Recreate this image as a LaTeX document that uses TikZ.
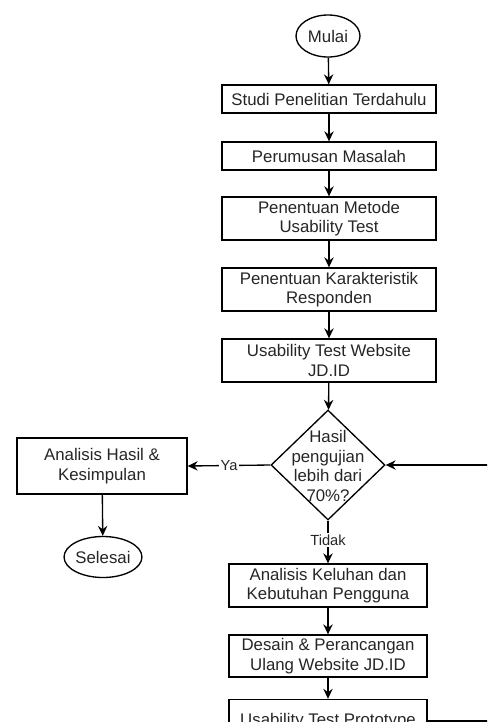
\documentclass[tikz,border=0pt]{standalone}
\usepackage{fontspec}
\setmainfont{Liberation Sans}
\usetikzlibrary{shapes.geometric,arrows.meta}
\begin{document}
\begin{tikzpicture}[x=0.75pt,y=-0.75pt,
  every node/.style={font=\fontsize{12.6}{14.6}\selectfont, text=black!85},
  box/.style={draw, line width=1pt, rectangle, minimum width=160.5pt, align=center, inner sep=0pt},
  boxb/.style={box, minimum width=148.5pt},
  term/.style={draw, line width=1pt, ellipse, inner sep=0pt},
  dec/.style={draw, line width=1pt, diamond, minimum width=85.5pt, minimum height=82.5pt, inner sep=0pt},
  lbl/.style={fill=white, inner sep=1pt, font=\fontsize{11}{13}\selectfont},
  arr/.style={line width=1pt, -{Stealth[length=7.5pt,width=7pt,inset=2.5pt]}},
  ln/.style={line width=1pt}]
\clip (0,0) rectangle (487,722);
\fill[white] (0,0) rectangle (487,722);
\node[term, minimum width=48pt, minimum height=31.5pt] (mulai) at (328,36) {Mulai};
\node[box, minimum height=21pt] (b1) at (329,99) {Studi Penelitian Terdahulu};
\node[box, minimum height=21pt] (b2) at (329,156) {Perumusan Masalah};
\node[box, minimum height=32.25pt] (b3) at (329,218.5) {Penentuan Metode\\Usability Test};
\node[box, minimum height=32.25pt] (b4) at (329,289.5) {Penentuan Karakteristik\\Responden};
\node[box, minimum height=32.25pt] (b5) at (329,360.5) {Usability Test Website\\JD.ID};
\node[dec] (d) at (328,465) {};
\node[align=center, inner sep=0pt] (dt) at (328,466) {Hasil\\pengujian\\lebih dari\\70\%?};
\node[box, minimum width=127.5pt, minimum height=42pt] (ya) at (102,466) {Analisis Hasil \&\\Kesimpulan};
\node[term, minimum width=50.25pt, minimum height=30.75pt] (sel) at (103,557) {Selesai};
\node[boxb, minimum height=32.25pt] (b6) at (328,585.5) {Analisis Keluhan dan\\Kebutuhan Pengguna};
\node[boxb, minimum height=31.5pt] (b7) at (328,656) {Desain \& Perancangan\\Ulang Website JD.ID};
\node[boxb, minimum height=32.25pt] (b8) at (328,721) {Usability Test Prototype};
\coordinate (c1) at (500,721);
\coordinate (c2) at (500,465);

\draw[arr] (mulai) -- (b1);
\draw[arr] (b1) -- (b2);
\draw[arr] (b2) -- (b3);
\draw[arr] (b3) -- (b4);
\draw[arr] (b4) -- (b5);
\draw[arr] (b5) -- (d);
\draw[arr] (d.west) -- node[lbl] (lya) {Ya} (ya.east);
\draw[arr] (ya) -- (sel);
\draw[arr] (d.south) -- node[lbl, pos=0.45] (ltd) {Tidak} (b6.north);
\draw[arr] (b6) -- (b7);
\draw[arr] (b7) -- (b8);
\draw[ln] (b8.east) -- (c1) -- (c2);
\draw[arr] (c2) -- (d.east);
\end{tikzpicture}
\end{document}
